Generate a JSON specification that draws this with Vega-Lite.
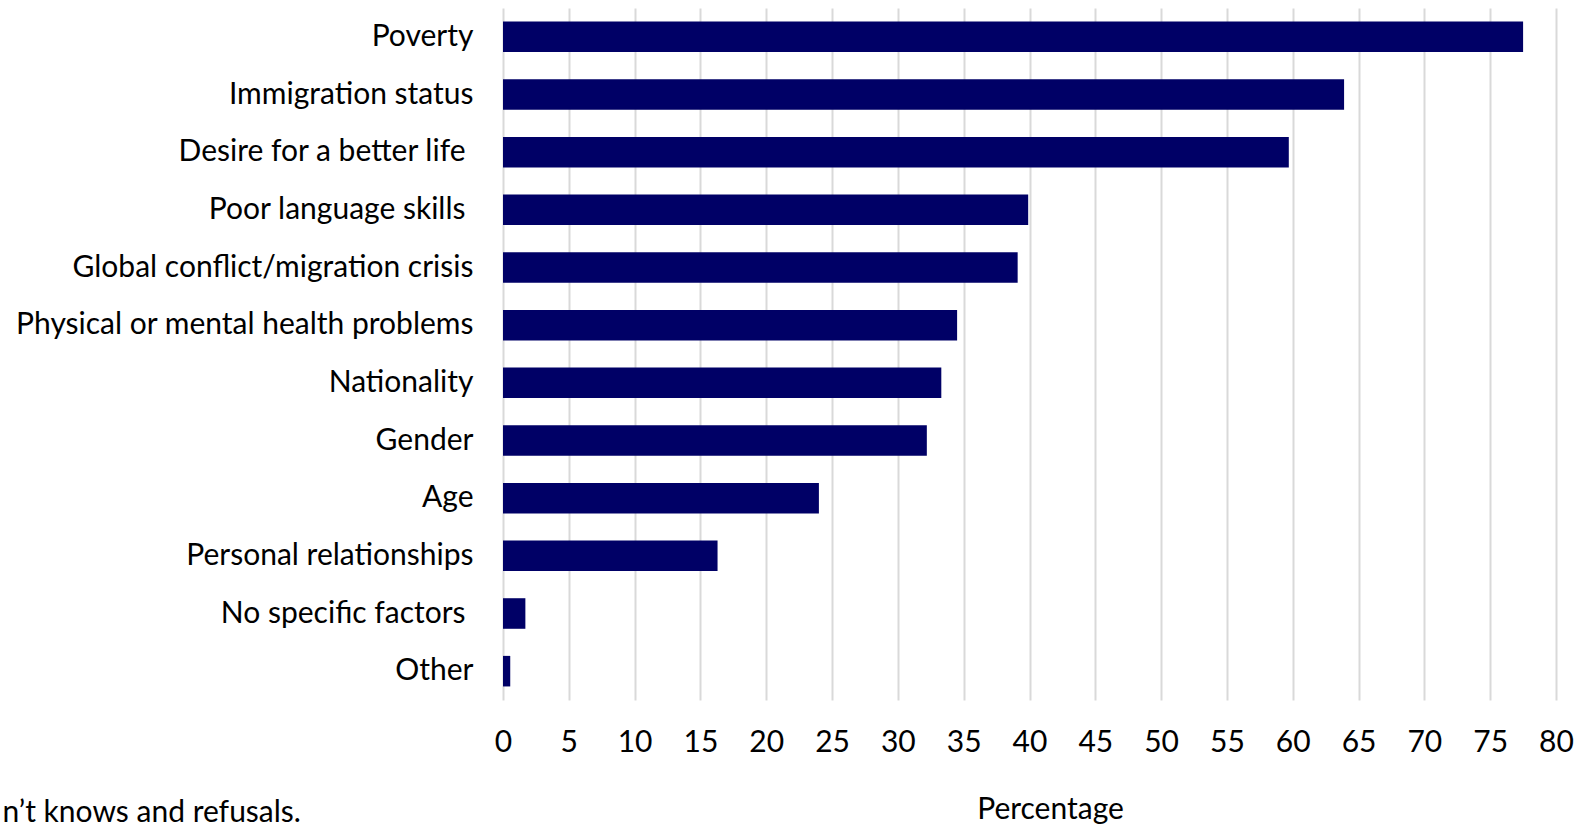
{
  "$schema": "https://vega.github.io/schema/vega-lite/v6.json",
  "width": 1053,
  "height": 692,
  "autosize": {"type": "none"},
  "padding": {"left": 503, "top": 8, "right": 25, "bottom": 125},
  "background": "white",
  "config": {"view": {"stroke": null}, "font": "Lato"},
  "data": {
    "values": [
      {"factor": "Poverty", "pct": 77.5},
      {"factor": "Immigration status", "pct": 63.9},
      {"factor": "Desire for a better life ", "pct": 59.7},
      {"factor": "Poor language skills ", "pct": 39.9},
      {"factor": "Global conflict/migration crisis", "pct": 39.1},
      {"factor": "Physical or mental health problems", "pct": 34.5},
      {"factor": "Nationality", "pct": 33.3},
      {"factor": "Gender", "pct": 32.2},
      {"factor": "Age", "pct": 24.0},
      {"factor": "Personal relationships", "pct": 16.3},
      {"factor": "No specific factors ", "pct": 1.7},
      {"factor": "Other", "pct": 0.55}
    ]
  },
  "mark": {"type": "bar", "color": "#000066"},
  "encoding": {
    "y": {
      "field": "factor",
      "type": "nominal",
      "sort": null,
      "scale": {"paddingInner": 0.47, "paddingOuter": 0.235},
      "axis": {
        "title": "n’t knows and refusals.",
        "titleAngle": 0,
        "titleX": -501,
        "titleY": 804,
        "titleAlign": "left",
        "titleBaseline": "middle",
        "titleFontSize": 30,
        "titleFontWeight": "normal",
        "titleColor": "#000000",
        "labelFontSize": 30,
        "labelColor": "#000000",
        "labelPadding": {"condition": {"test": "slice(datum.value, -1) === ' '", "value": 38}, "value": 30},
        "labelLimit": 0,
        "ticks": false,
        "domain": false
      }
    },
    "x": {
      "field": "pct",
      "type": "quantitative",
      "scale": {"domain": [0, 80], "nice": false},
      "axis": {
        "values": [0, 5, 10, 15, 20, 25, 30, 35, 40, 45, 50, 55, 60, 65, 70, 75, 80],
        "grid": true,
        "gridColor": "#d9d9d9",
        "gridWidth": 2,
        "domain": false,
        "ticks": false,
        "labelFontSize": 30,
        "labelColor": "#000000",
        "labelPadding": 42,
        "labelBaseline": "middle",
        "labelFlush": false,
        "title": "Percentage",
        "titleX": 547,
        "titleY": 109,
        "titleAlign": "center",
        "titleBaseline": "middle",
        "titleFontSize": 30,
        "titleFontWeight": "normal",
        "titleColor": "#000000"
      }
    }
  }
}
